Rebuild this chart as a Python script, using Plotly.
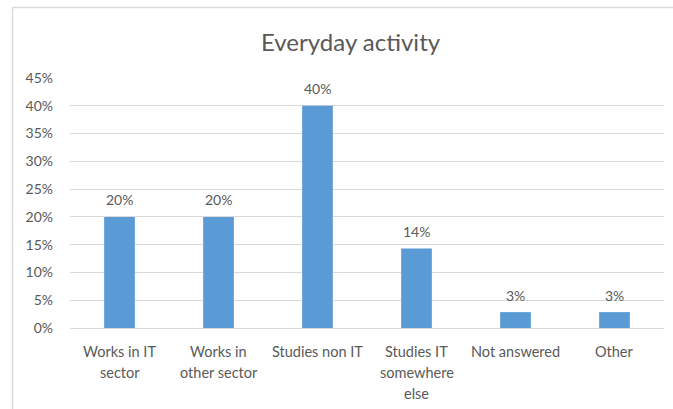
import plotly.graph_objects as go

# Everyday activity survey (35 respondents)
categories = ["Works in IT<br>sector", "Works in<br>other sector", "Studies non IT",
              "Studies IT<br>somewhere<br>else", "Not answered", "Other"]
shares = [0.20, 0.20, 0.40, 0.1429, 0.0286, 0.0286]
y_ticks = [0, 0.05, 0.10, 0.15, 0.20, 0.25, 0.30, 0.35, 0.40, 0.45]

W, H = 673, 409
L, R, T, B = 70, 9, 78, 81
pw, ph = W - L - R, H - T - B

def px_x(x):
    return (x - L) / pw

def px_y(y):
    return 1 - (y - T) / ph

FONT = "Lato, 'Open Sans', sans-serif"
GREY = "#595959"
LINE_H = 21

fig = go.Figure(go.Bar(
    x=categories, y=shares,
    marker=dict(color="#5B9BD5", line=dict(width=0)),
    width=0.31,
    hoverinfo="x+y",
))

annotations = [dict(text="Everyday activity", x=px_x(351), y=px_y(41),
                    xref="paper", yref="paper", showarrow=False,
                    xanchor="center", yanchor="middle",
                    font=dict(family=FONT, size=24, color=GREY))]

# value labels above each bar
for cat, v in zip(categories, shares):
    annotations.append(dict(text=f"{v:.0%}", x=cat, y=v, xref="x", yref="y",
                            showarrow=False, xanchor="center", yanchor="middle",
                            yshift=17, font=dict(family=FONT, size=14, color=GREY)))

# category labels below the axis, one line at a time
for cat in categories:
    for i, line in enumerate(cat.split("<br>")):
        annotations.append(dict(text=line, x=cat, y=0, xref="x", yref="y",
                                showarrow=False, xanchor="center", yanchor="middle",
                                yshift=-(23 + LINE_H * i),
                                font=dict(family=FONT, size=14.5, color=GREY)))

fig.update_layout(
    width=W, height=H,
    margin=dict(l=L, r=R, t=T, b=B),
    paper_bgcolor="white", plot_bgcolor="white",
    showlegend=False,
    font=dict(family=FONT, size=14, color=GREY),
    xaxis=dict(showgrid=False, showline=False, ticks="", showticklabels=False),
    yaxis=dict(range=[0, 0.45], tickvals=y_ticks, tickformat=".0%",
               showgrid=True, gridcolor="#d9d9d9", gridwidth=1,
               zeroline=True, zerolinecolor="#d9d9d9", zerolinewidth=1,
               showline=False, ticks="", ticklabelstandoff=16,
               tickfont=dict(family=FONT, size=14, color=GREY)),
    annotations=annotations,
    shapes=[
        dict(type="line", xref="paper", yref="paper",
             x0=px_x(12.5), x1=px_x(12.5), y0=px_y(7.5), y1=px_y(420),
             line=dict(color="#d9d9d9", width=1.5)),
        dict(type="line", xref="paper", yref="paper",
             x0=px_x(12.5), x1=px_x(690), y0=px_y(7.5), y1=px_y(7.5),
             line=dict(color="#d9d9d9", width=1.5)),
    ],
)

fig.write_html("out.html")
